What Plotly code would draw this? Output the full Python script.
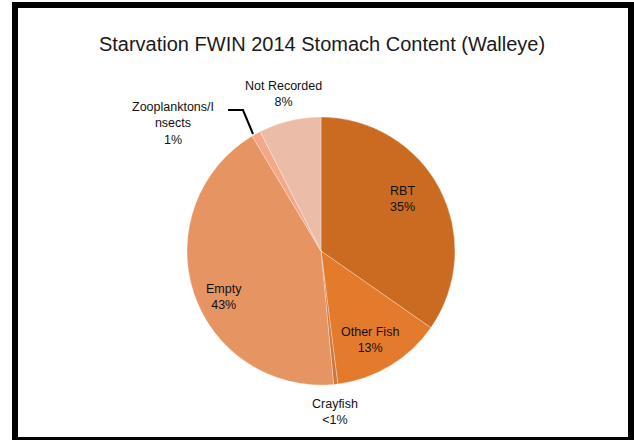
import plotly.graph_objects as go

# ---- data ----
labels = ["RBT", "Other Fish", "Crayfish", "Empty", "Zooplanktons/Insects", "Not Recorded"]
values = [34.7, 13.3, 0.5, 42.9, 1.1, 7.5]
label_text = ["RBT", "Other Fish", "Crayfish", "Empty", "Zooplanktons/I<br>nsects", "Not Recorded"]
pct_text = ["35%", "13%", "&lt;1%", "43%", "1%", "8%"]

colors = ["#CB6B22", "#E47A2B", "#D27638", "#E69462", "#F4A888", "#EBBDA8"]

W, H = 634, 440
cx, cy, r = 321, 251, 134
FONT = "Liberation Sans, Arial, sans-serif"

# label anchor positions (page pixels, centre of text block)
label_pos = [(402, 199), (370, 340), (335, 412), (224, 297), (173, 124), (283, 94)]


def px(x):
    return x / W


def py(y):
    return 1 - y / H


fig = go.Figure(go.Pie(
    labels=labels,
    values=values,
    textinfo="none",
    sort=False,
    direction="clockwise",
    rotation=0,
    marker=dict(colors=colors, line=dict(color="rgba(255,255,255,0.3)", width=1)),
    domain=dict(x=[px(cx - r), px(cx + r)], y=[py(cy + r), py(cy - r)]),
    showlegend=False,
    hoverinfo="label+percent",
))

annotations = []
for lt, pt, (x, y) in zip(label_text, pct_text, label_pos):
    annotations.append(dict(
        text=f"{lt}<br>{pt}", x=px(x), y=py(y), xref="paper", yref="paper",
        xanchor="center", yanchor="middle", showarrow=False, align="center",
        font=dict(family=FONT, size=12.5, color="#111111"),
    ))

fig.update_layout(
    width=W, height=H,
    margin=dict(l=0, r=0, t=0, b=0),
    paper_bgcolor="white",
    plot_bgcolor="white",
    title=dict(
        text="Starvation FWIN 2014 Stomach Content (Walleye)",
        x=px(322), xanchor="center", y=py(44), yanchor="middle",
        font=dict(family=FONT, size=20, color="#1a1a1a"),
    ),
    annotations=annotations,
    shapes=[
        dict(type="rect", xref="paper", yref="paper",
             x0=px(15), x1=px(631), y0=py(440), y1=py(5),
             line=dict(color="black", width=6), fillcolor="rgba(0,0,0,0)"),
        dict(type="path", xref="paper", yref="paper",
             path=f"M {px(228)},{py(110)} L {px(243)},{py(110)} L {px(253)},{py(134)}",
             line=dict(color="black", width=2)),
    ],
)

fig.write_html("out.html", config={"displayModeBar": False},
               post_script="document.body.style.margin='0';")
